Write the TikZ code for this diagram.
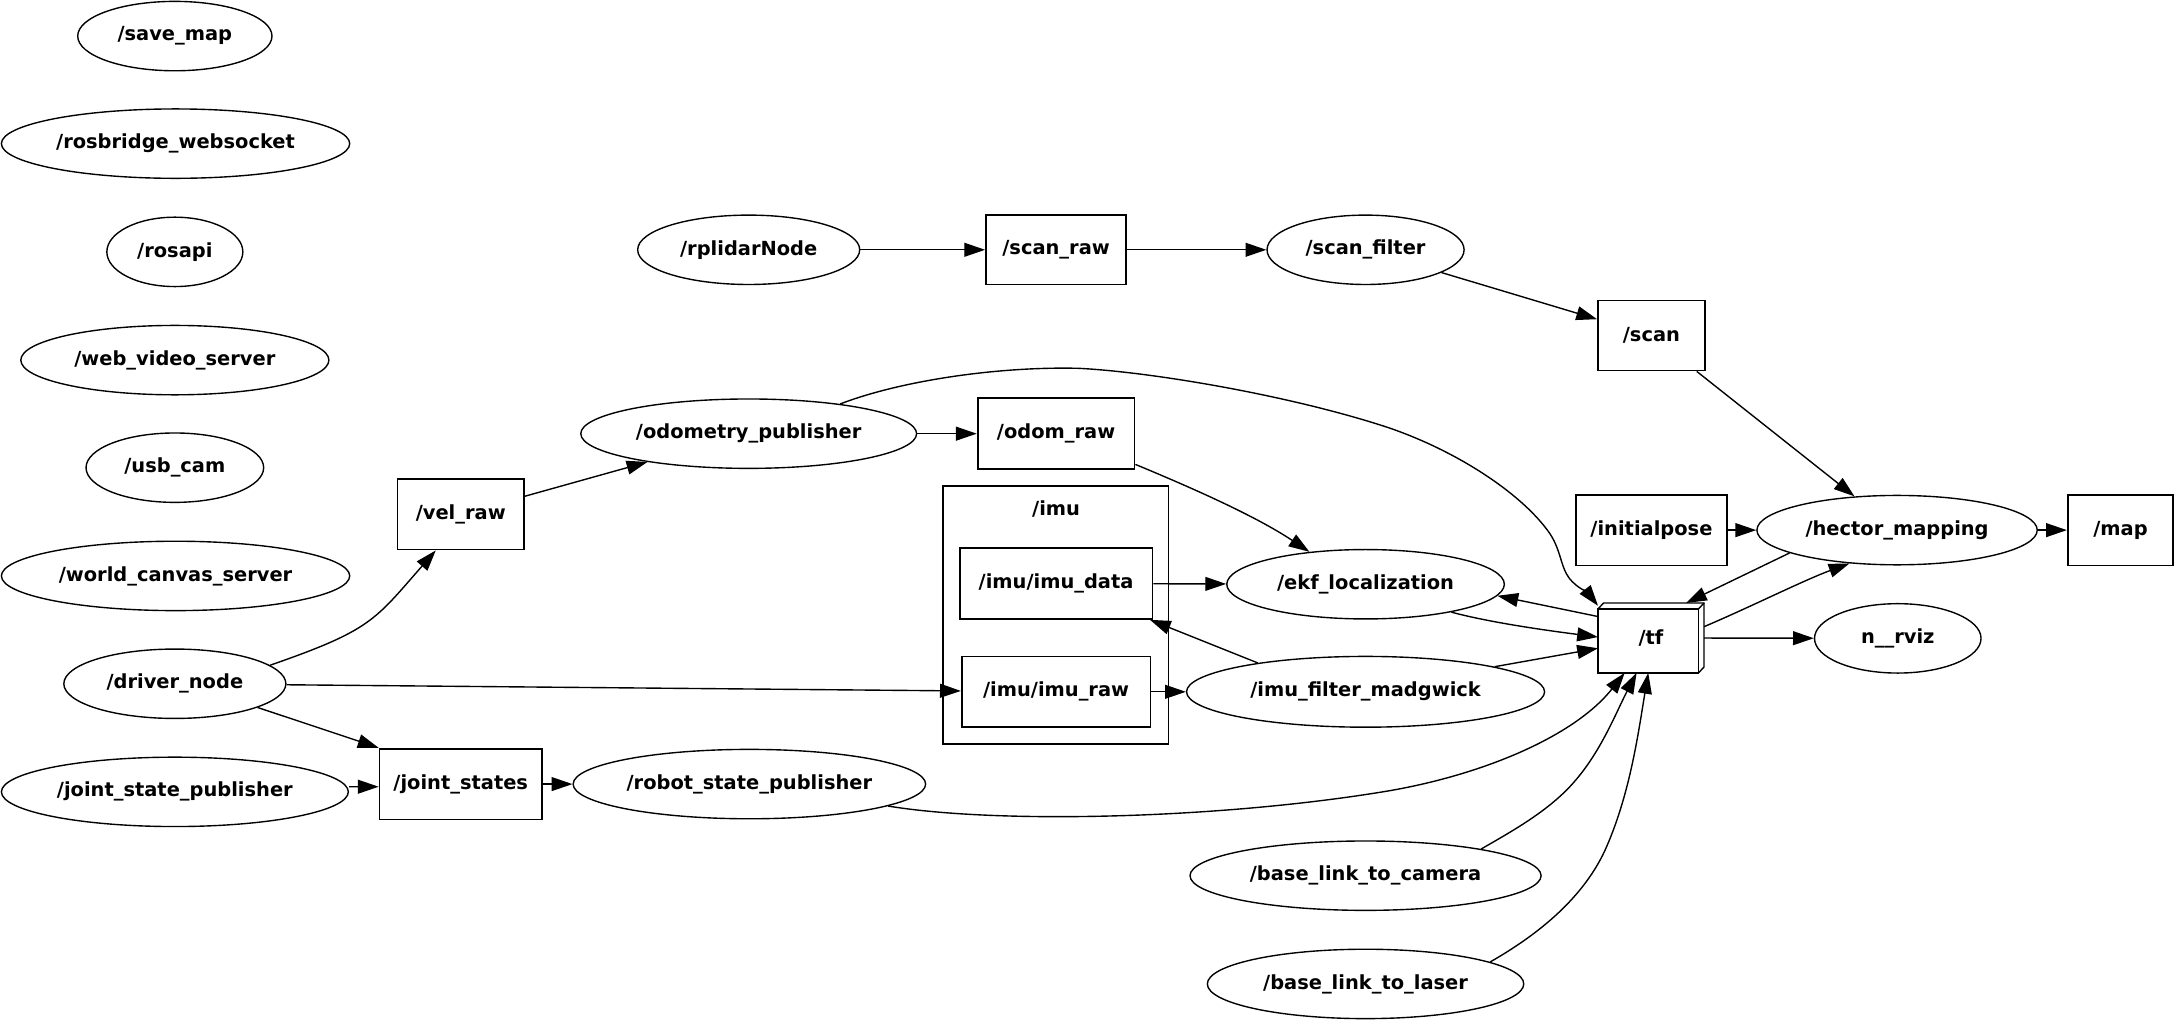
\documentclass[tikz,border=0pt]{standalone}
\usepackage{fontspec}
\setmainfont{DejaVu Sans}
\usetikzlibrary{arrows.meta, shapes.geometric}

\begin{document}
\begin{tikzpicture}[x=1pt, y=-1pt,
    font=\fontsize{14}{16}\selectfont\bfseries,
    rosnode/.style={draw, ellipse, line width=1pt, minimum height=50pt, inner sep=0pt},
    topic/.style={draw, rectangle, line width=1.3pt, minimum height=51pt, inner sep=0pt},
    link/.style={-{Triangle[length=15pt, width=10pt]}, line width=1pt}]
    \useasboundingbox (0,0) rectangle (1568,735);

    % left column, nodes without connections
    \node[rosnode, minimum width=140pt] (savemap) at (126,26) {/save\_map};
    \node[rosnode, minimum width=251pt] (rosbridge) at (126.5,103.5) {/rosbridge\_websocket};
    \node[rosnode, minimum width=98pt] (rosapi) at (126,181.5) {/rosapi};
    \node[rosnode, minimum width=222pt] (webvideo) at (126,259.5) {/web\_video\_server};
    \node[rosnode, minimum width=128pt] (usbcam) at (126,337) {/usb\_cam};
    \node[rosnode, minimum width=251pt] (worldcanvas) at (126.5,415) {/world\_canvas\_server};
    \node[rosnode, minimum width=160pt] (drivernode) at (126,492.7) {/driver\_node};
    \node[rosnode, minimum width=250pt] (jointpub) at (126,570.6) {/joint\_state\_publisher};

    % second column
    \node[topic, minimum width=91pt] (velraw) at (332,370.5) {/vel\_raw};
    \node[topic, minimum width=117pt] (jointstates) at (332,565) {/joint\_states};
    \node[rosnode, minimum width=160pt] (rplidar) at (539.5,180) {/rplidarNode};
    \node[rosnode, minimum width=242pt] (odompub) at (539.5,312.5) {/odometry\_publisher};
    \node[rosnode, minimum width=254pt] (robotpub) at (540,565) {/robot\_state\_publisher};

    % topics and the /imu group
    \node[topic, minimum width=101pt, minimum height=50pt] (scanraw) at (761,180) {/scan\_raw};
    \node[topic, minimum width=113pt] (odomraw) at (761,312.5) {/odom\_raw};
    \draw[line width=1.2pt] (679.5,350) rectangle (842,536);
    \node (imulabel) at (761,367) {/imu};
    \node[topic, minimum width=139pt] (imudata) at (761,420.5) {/imu/imu\_data};
    \node[topic, minimum width=136pt] (imuraw) at (761,498.5) {/imu/imu\_raw};

    % third column
    \node[rosnode, minimum width=142pt] (scanfilter) at (984,180) {/scan\_filter};
    \node[rosnode, minimum width=200pt] (ekf) at (984,421) {/ekf\_localization};
    \node[rosnode, minimum width=258pt, minimum height=51pt] (madgwick) at (984,498.5) {/imu\_filter\_madgwick};
    \node[rosnode, minimum width=253pt] (camera) at (984,631) {/base\_link\_to\_camera};
    \node[rosnode, minimum width=228pt] (laser) at (984,709) {/base\_link\_to\_laser};

    % right part
    \node[topic, minimum width=77pt, minimum height=50.5pt] (scan) at (1190,241.75) {/scan};
    \node[topic, minimum width=109pt] (initialpose) at (1190,382) {/initialpose};
    \node[inner sep=0pt, minimum width=76pt, minimum height=50pt] (tf) at (1189.7,459.7) {/tf};
    \coordinate (tfa) at ([yshift=-4.3pt]tf.north west);
    \coordinate (tfb) at ([xshift=-4pt, yshift=-4.3pt]tf.north east);
    \coordinate (tfc) at ([xshift=-4pt]tf.south east);
    \draw[line width=1.3pt] (tf.south west) -- (tfa) -- (tfb) -- (tfc) -- cycle;
    \draw[line width=1pt] (tfa) -- ([xshift=4pt]tf.north west) -- (tf.north east)
        -- ([yshift=4.3pt]tf.south east) -- (tfc);
    \draw[line width=1pt] (tfb) -- (tf.north east);
    \node[rosnode, minimum width=202pt] (hector) at (1367,382) {/hector\_mapping};
    \node[rosnode, minimum width=120pt] (rviz) at (1367.5,460) {n\_\_rviz};
    \node[topic, minimum width=76pt] (map) at (1528,382) {/map};

    % connections
    \draw[link] (rplidar) -- (scanraw);
    \draw[link] (scanraw) -- (scanfilter);
    \draw[link] (scanfilter) -- (scan);
    \draw[link] (scan) -- (hector);
    \draw[link] (initialpose) -- (hector);
    \draw[link] (hector) -- (map);
    \draw[link] (hector.192) -- (tf.45);
    \draw[link] (tf.12) .. controls (1260,438) and (1300,418) .. (hector.215);
    \draw[link] (tf) -- (rviz);
    \draw[link] (tf.158) -- (ekf.-5);
    \draw[link] (ekf.-18) .. controls (1075,449) and (1120,455) .. (tf.179);
    \draw[link] (madgwick.11) -- (tf.191);
    \draw[link] (madgwick.165) -- ([xshift=-2.5pt]imudata.south east);
    \draw[link] (imuraw) -- (madgwick);
    \draw[link] (imudata) -- (ekf);
    \draw[link] ([yshift=4pt]odomraw.south east) .. controls (860,352) and (905,372) .. (ekf.150);
    \draw[link] (odompub) -- (odomraw);
    \draw[link] (odompub.18) .. controls (650,274) and (720,264) .. (777,265.4)
        .. controls (830,268) and (930,285) .. (1000,308)
        .. controls (1050,325) and (1095,355) .. (1115,382)
        .. controls (1125,395) and (1124,408) .. (1131,417)
        .. controls (1137,424) and (1144,427) .. ([yshift=-2pt]tf.north west);
    \draw[link] (velraw) -- (odompub);
    \draw[link] (drivernode.11) .. controls (267.6,454) and (269.7,447.2) .. ([xshift=-18pt]velraw.south);
    \draw[link] (drivernode) -- (imuraw);
    \draw[link] (drivernode.-16) -- (jointstates.north west);
    \draw[link] ([yshift=3.7pt]jointpub.east) -- ([yshift=-1.9pt]jointstates.west);
    \draw[link] (jointstates) -- (robotpub);
    \draw[link] (robotpub.-9) .. controls (720,594) and (880,590) .. (1000,570)
        .. controls (1070,558) and (1135,530) .. ([xshift=-19pt]tf.south);
    \draw[link] (camera.13) .. controls (1087.4,600.2) and (1109.1,588.1) .. (1126.5,571.6)
        .. controls (1151.2,548.2) and (1163.5,515.3) .. ([xshift=-10.4pt]tf.south);
    \draw[link] (laser.10) .. controls (1109.4,672.9) and (1142.2,645.9) .. (1157.7,610.1)
        .. controls (1174.8,570.7) and (1180.6,527.6) .. ([xshift=-2pt]tf.south);
\end{tikzpicture}
\end{document}
